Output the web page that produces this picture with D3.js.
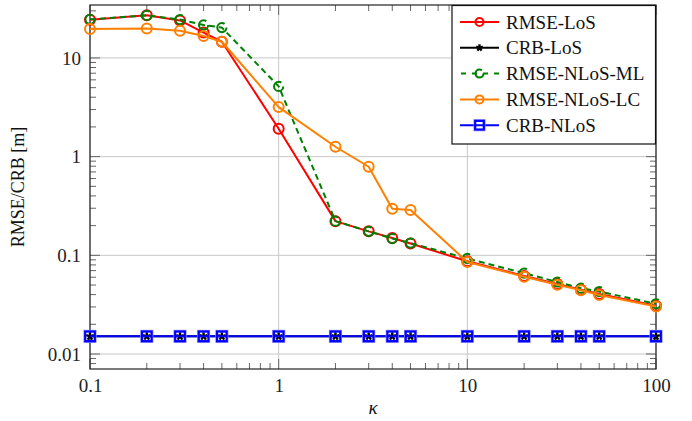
<!DOCTYPE html>
<html><head><meta charset="utf-8">
<script src="https://cdn.jsdelivr.net/npm/d3@7"></script>
<style>body{margin:0;background:#fff}svg{display:block}svg text{font-family:"Liberation Serif","DejaVu Serif",serif}</style>
</head><body>
<svg id="chart" width="692" height="421"></svg>
<script>
const kappa = [0.1,0.2,0.3,0.4,0.5,1,2,3,4,5,10,20,30,40,50,100];
const rmseLoS   = [24.4,27.1,24.0,18.1,14.6,1.92,0.222,0.175,0.150,0.132,0.087,0.0618,0.0513,0.0449,0.0406,0.0309];
const crbLoS    = [0.0151,0.0151,0.0151,0.0151,0.0151,0.0151,0.0151,0.0151,0.0151,0.0151,0.0151,0.0151,0.0151,0.0151,0.0151,0.0151];
const rmseML    = [24.6,27.0,24.5,21.6,20.3,5.15,0.222,0.175,0.148,0.133,0.093,0.066,0.0537,0.0465,0.0430,0.0323];
const rmseLC    = [19.7,19.9,18.9,16.7,14.6,3.18,1.26,0.79,0.296,0.288,0.0857,0.0607,0.0503,0.0442,0.0397,0.0303];
const crbNLoS   = [0.0151,0.0151,0.0151,0.0151,0.0151,0.0151,0.0151,0.0151,0.0151,0.0151,0.0151,0.0151,0.0151,0.0151,0.0151,0.0151];
const seriesNames = ["RMSE-LoS","CRB-LoS","RMSE-NLoS-ML","RMSE-NLoS-LC","CRB-NLoS"];
const xTicks = [0.1,1,10,100];
const yTicks = [0.01,0.1,1,10];
const xTickLabels = ["0.1","1","10","100"];
const yTickLabels = ["0.01","0.1","1","10"];

const series = [
  {name:seriesNames[0], values:rmseLoS, color:"#ff0000", marker:"circle", dash:null},
  {name:seriesNames[1], values:crbLoS,  color:"#000000", marker:"star",   dash:null},
  {name:seriesNames[2], values:rmseML,  color:"#008000", marker:"circle", dash:"6,4"},
  {name:seriesNames[3], values:rmseLC,  color:"#ff8000", marker:"circle", dash:null},
  {name:seriesNames[4], values:crbNLoS, color:"#0000ff", marker:"square", dash:null}
];

const L=90, T=5, R=656, B=369;
const svg = d3.select("#chart");
const x = d3.scaleLog().domain([0.1,100]).range([L,R]);
const y = d3.scaleLog().domain([0.00705,34.4]).range([B,T]);
const font = "Liberation Serif";

// grid
const g = svg.append("g");
g.selectAll(".gx").data(xTicks).join("line")
  .attr("x1",d=>x(d)).attr("x2",d=>x(d)).attr("y1",T).attr("y2",B)
  .attr("stroke","#c8c8c8").attr("stroke-width",1);
g.selectAll(".gy").data(yTicks).join("line")
  .attr("y1",d=>y(d)).attr("y2",d=>y(d)).attr("x1",L).attr("x2",R)
  .attr("stroke","#c8c8c8").attr("stroke-width",1);

// minor ticks
const xMinor = [], yMinor = [];
for (let e=-1;e<2;e++) for (let m=2;m<=9;m++) xMinor.push(m*Math.pow(10,e));
for (let e=-3;e<2;e++) for (let m=2;m<=9;m++){const v=m*Math.pow(10,e); if(v>=0.00705&&v<=34.4) yMinor.push(v);}
const tk = svg.append("g").attr("stroke","#666").attr("stroke-width",1);
xMinor.forEach(v=>{
  tk.append("line").attr("x1",x(v)).attr("x2",x(v)).attr("y1",B).attr("y2",B-6);
  tk.append("line").attr("x1",x(v)).attr("x2",x(v)).attr("y1",T).attr("y2",T+6);
});
yMinor.forEach(v=>{
  tk.append("line").attr("y1",y(v)).attr("y2",y(v)).attr("x1",L).attr("x2",L+6);
  tk.append("line").attr("y1",y(v)).attr("y2",y(v)).attr("x1",R).attr("x2",R-6);
});
xTicks.forEach(v=>{
  tk.append("line").attr("x1",x(v)).attr("x2",x(v)).attr("y1",B).attr("y2",B-10);
  tk.append("line").attr("x1",x(v)).attr("x2",x(v)).attr("y1",T).attr("y2",T+10);
});
yTicks.forEach(v=>{
  tk.append("line").attr("y1",y(v)).attr("y2",y(v)).attr("x1",L).attr("x2",L+10);
  tk.append("line").attr("y1",y(v)).attr("y2",y(v)).attr("x1",R).attr("x2",R-10);
});

// axes via d3 (labels only)
const xAxis = d3.axisBottom(x).tickValues(xTicks).tickFormat((d,i)=>xTickLabels[i]).tickSize(0).tickPadding(10);
const yAxis = d3.axisLeft(y).tickValues(yTicks).tickFormat((d,i)=>yTickLabels[i]).tickSize(0).tickPadding(9);
const gx = svg.append("g").attr("transform",`translate(0,${B})`).call(xAxis);
const gy = svg.append("g").attr("transform",`translate(${L},0)`).call(yAxis);
[gx,gy].forEach(a=>{a.select(".domain").remove(); a.attr("font-family",null); a.selectAll("text").attr("font-family",font).attr("font-size",19).attr("fill","#222");});

// frame
svg.append("rect").attr("x",L).attr("y",T).attr("width",R-L).attr("height",B-T)
  .attr("fill","none").attr("stroke","#222").attr("stroke-width",1.2);

const line = d3.line().x((d,i)=>x(kappa[i])).y(d=>y(d));

function drawMarker(sel, s, r){
  if (s.marker==="circle"){
    const c = sel.append("circle").attr("r",r).attr("fill","none").attr("stroke",s.color).attr("stroke-width",2);
    if (s.dash){ const circ=2*Math.PI*r; c.attr("stroke-dasharray",`${circ*0.83},${circ*0.17}`); }
  } else if (s.marker==="square"){
    sel.append("rect").attr("x",-r-1).attr("y",-r-1).attr("width",2*r+2).attr("height",2*r+2)
      .attr("fill","none").attr("stroke","#8c8cff").attr("stroke-width",1.5);
    sel.append("rect").attr("x",-r).attr("y",-r).attr("width",2*r).attr("height",2*r)
      .attr("fill","none").attr("stroke",s.color).attr("stroke-width",2.2);
  } else if (s.marker==="star"){
    for (let k=0;k<5;k++){
      const a = -Math.PI/2 + k*2*Math.PI/5;
      sel.append("line").attr("x1",0).attr("y1",0).attr("x2",r*Math.cos(a)).attr("y2",r*Math.sin(a))
        .attr("stroke",s.color).attr("stroke-width",2.4);
    }
  }
}

const radius = {circle:5, square:4.8, star:4};
series.forEach(s=>{
  const gg = svg.append("g");
  gg.append("path").datum(s.values).attr("d",line).attr("fill","none")
    .attr("stroke",s.color).attr("stroke-width",2).attr("stroke-dasharray",s.dash)
    .attr("stroke-linejoin","round");
  s.values.forEach((v,i)=>{
    const m = gg.append("g").attr("transform",`translate(${x(kappa[i])},${y(v)})`);
    drawMarker(m,s,s.dash?4.6:radius[s.marker]);
  });
});

// legend
const lg = svg.append("g");
lg.append("rect").attr("x",452).attr("y",5.5).attr("width",203.5).attr("height",138.5)
  .attr("fill","#fff").attr("stroke","#111").attr("stroke-width",1.2);
series.forEach((s,i)=>{
  const yy = 22 + i*25.8;
  lg.append("line").attr("x1",460).attr("x2",499).attr("y1",yy).attr("y2",yy)
    .attr("stroke",s.color).attr("stroke-width",2).attr("stroke-dasharray",s.dash? "5,6":null)
    .attr("stroke-dashoffset",s.dash? -1:null);
  const m = lg.append("g").attr("transform",`translate(479.5,${yy})`);
  drawMarker(m,s,s.marker==="circle"?4:(s.marker==="square"?4.3:3.5));
  lg.append("text").attr("x",506).attr("y",yy).attr("dy","0.35em")
    .attr("font-family",font).attr("font-size",19).attr("fill","#111").text(s.name);
});

// axis titles
svg.append("text").attr("transform","translate(24,187) rotate(-90)").attr("text-anchor","middle")
  .attr("font-family",font).attr("font-size",18).attr("fill","#111").text("RMSE/CRB [m]");
svg.append("text").attr("x",373).attr("y",414).attr("text-anchor","middle")
  .attr("font-family",font).attr("font-style","italic").attr("font-size",19).attr("fill","#111").text("κ");
</script>
</body></html>
